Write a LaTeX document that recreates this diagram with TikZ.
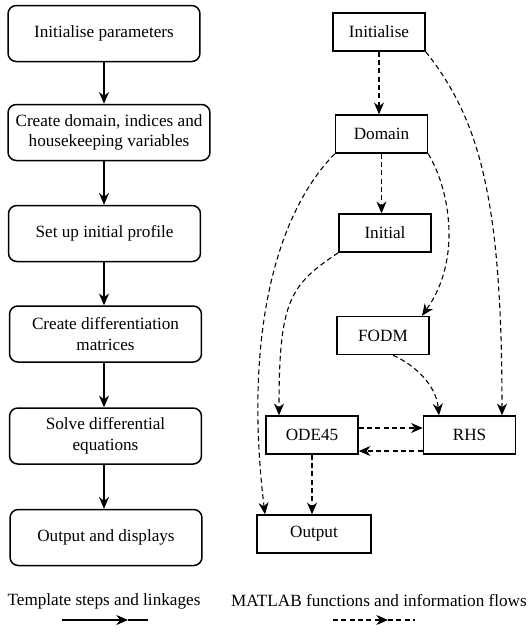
\documentclass[tikz,border=0pt]{standalone}
\usepackage{fontspec}
\setmainfont{Liberation Serif}
\usetikzlibrary{arrows.meta,calc}

\begin{document}
\begin{tikzpicture}[x=0.6pt, y=-0.6pt,
  >={Stealth[length=7pt,width=6pt,inset=2.2pt]},
  font=\fontsize{10.3}{12.4}\selectfont,
  stepbox/.style={draw, line width=0.9pt, rounded corners=5pt, minimum width=115.2pt,
    minimum height=33.6pt, align=center, inner sep=2pt},
  fnbox/.style={draw, line width=0.9pt, minimum width=55.2pt, minimum height=22.8pt, inner sep=2pt},
  link/.style={->, line width=0.75pt},
  flow/.style={->, line width=0.65pt, dash pattern=on 3pt off 2pt}]
  \useasboundingbox (0,0) rectangle (532,637);

  % template steps
  \node[stepbox] (par) at (104,33.5) {Initialise parameters};
  \node[stepbox, minimum width=121.2pt] (dom) at (109,132.5) {Create domain, indices and\\housekeeping variables};
  \node[stepbox] (prof) at (104.5,233.5) {Set up initial profile};
  \node[stepbox] (mat) at (105.5,334) {Create differentiation\\matrices};
  \node[stepbox] (solve) at (105.5,436) {Solve differential\\equations};
  \node[stepbox] (disp) at (106,537.5) {Output and displays};
  \foreach \a/\b in {par/dom, dom/prof, prof/mat, mat/solve, solve/disp}
    \draw[link] (\a.south -| par.south) -- (\b.north -| par.south);

  % MATLAB functions
  \node[fnbox] (init) at (379,32) {Initialise};
  \node[fnbox] (domain) at (381.5,134) {Domain};
  \node[fnbox] (initial) at (385,233) {Initial};
  \node[fnbox] (fodm) at (383,335.5) {FODM};
  \node[fnbox] (ode) at (312,435) {ODE45};
  \node[fnbox] (rhs) at (469.5,435) {RHS};
  \node[fnbox, minimum width=68.4pt] (out) at (314,534) {Output};

  \draw[flow] (init.south) -- (init.south |- domain.north);
  \draw[flow] (domain.south) -- (domain.south |- initial.north);
  \draw[flow] (init.south east) .. controls (480,120) and (502,200) .. ($(rhs.north)+(32.5,0)$);
  \draw[flow] (domain.south east) .. controls (450,190) and (462,260) .. ($(fodm.north)+(39,0)$);
  \draw[flow] (domain.south west) .. controls (270,220) and (245,350) .. ($(out.north)+(-49,0)$);
  \draw[flow] (initial.south west) .. controls (290,285) and (279,300) .. ($(ode.north)+(-33,0)$);
  \draw[flow] ($(fodm.south)+(10,0)$) .. controls (415,365) and (436,385) .. ($(rhs.north)+(-30.5,0)$);
  \draw[flow] ($(ode.east)+(0,-7)$) -- ($(rhs.west)+(0,-7)$);
  \draw[flow] ($(rhs.west)+(0,16)$) -- ($(ode.east)+(0,16)$);
  \draw[flow] (ode.south) -- (ode.south |- out.north);

  % legend
  \node (ltxt) at (104,601) {Template steps and linkages};
  \node (rtxt) at (379,601) {MATLAB functions and information flows};
  \coordinate (la) at (62,620);
  \coordinate (lm) at (128,620);
  \coordinate (lb) at (148,620);
  \draw[link] (la) -- (lm);
  \draw[line width=0.75pt] (lm) -- (lb);
  \coordinate (ra) at (333,620);
  \coordinate (rm) at (388,620);
  \coordinate (rb) at (415,620);
  \draw[flow] (ra) -- (rm);
  \draw[line width=0.65pt, dash pattern=on 3pt off 2pt] (rm) -- (rb);
\end{tikzpicture}
\end{document}
